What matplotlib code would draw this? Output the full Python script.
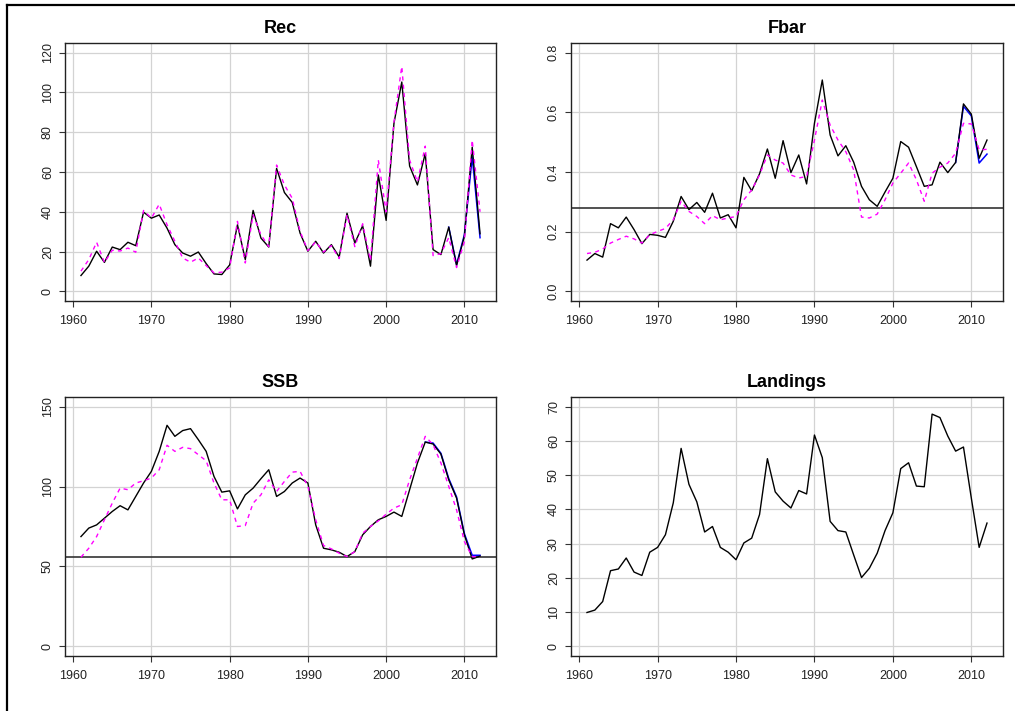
import numpy as np
import matplotlib.pyplot as plt
from matplotlib.lines import Line2D

plt.rcParams["font.family"] = ["Liberation Sans", "DejaVu Sans"]

years = np.arange(1961, 2013)

# Recruitment
rec_final = [8, 12.7, 20.2, 14.6, 22.3, 21, 24.7, 23, 39.8, 36.8,
             38.4, 31.8, 23.5, 19.3, 17.7, 19.8, 14, 8.8, 8.5, 13.3,
             33.5, 16, 40.7, 26.8, 22.3, 61.8, 49.7, 44.7, 29.3, 20.2,
             25.2, 19.3, 23.5, 17.3, 39.3, 24.3, 33, 12.7, 58.5, 35.7,
             84.5, 105.2, 63, 53.5, 69.3, 21, 18.5, 32.3, 13, 27.7,
             72.5, 29]
rec_alt = [10.2, 16, 24.7, 14.5, 20.7, 20.3, 21.8, 19.7, 40.7, 36.8,
           43.8, 33.5, 25.2, 16.8, 14.7, 16.8, 13, 9.3, 9.7, 11.8,
           35.2, 14.3, 38.5, 28.5, 22.5, 63.5, 53.5, 46.8, 30.2, 20.5,
           25, 19.8, 23, 16.5, 38.5, 22.5, 34, 15.5, 66, 40,
           85, 113, 66, 55, 73, 18, 19, 27, 12, 25,
           76, 40]
rec_retro_years = [2008, 2009, 2010, 2011, 2012]
rec_retro = [32.3, 13.5, 28.5, 67.7, 27]

# Fishing mortality
fbar_final = [0.105, 0.127, 0.115, 0.227, 0.213, 0.249, 0.207, 0.16, 0.191, 0.188,
              0.181, 0.235, 0.318, 0.274, 0.298, 0.265, 0.329, 0.246, 0.257, 0.213,
              0.382, 0.337, 0.394, 0.477, 0.379, 0.505, 0.398, 0.457, 0.36, 0.563,
              0.708, 0.524, 0.454, 0.488, 0.433, 0.352, 0.307, 0.285, 0.333, 0.379,
              0.502, 0.483, 0.418, 0.352, 0.357, 0.433, 0.398, 0.432, 0.628, 0.594,
              0.446, 0.507]
fbar_alt = [0.127, 0.131, 0.142, 0.162, 0.174, 0.185, 0.176, 0.162, 0.19, 0.201,
            0.211, 0.24, 0.302, 0.268, 0.251, 0.227, 0.254, 0.24, 0.246, 0.251,
            0.307, 0.34, 0.39, 0.457, 0.44, 0.43, 0.39, 0.38, 0.385, 0.507,
            0.641, 0.557, 0.507, 0.468, 0.407, 0.249, 0.246, 0.259, 0.307, 0.363,
            0.396, 0.43, 0.374, 0.302, 0.396, 0.416, 0.43, 0.463, 0.563, 0.561,
            0.474, 0.476]
fbar_retro_years = [2008, 2009, 2010, 2011, 2012]
fbar_retro = [0.432, 0.62, 0.588, 0.43, 0.46]
fbar_ref = 0.28

# Spawning stock biomass
ssb_final = [68.7, 74, 76, 80.2, 84.4, 88, 85.4, 93.8, 102.2, 109.5,
             122, 138.3, 131.4, 135, 136.2, 129.3, 122, 106.3, 96.5, 97.3,
             86, 94.8, 99, 104.9, 110.5, 93.8, 96.9, 102.2, 105.3, 102.2,
             76, 61.4, 60.4, 58.9, 56.2, 59.3, 69.8, 75, 79.2, 81.3,
             84, 81.3, 98, 114.7, 127.8, 126.6, 120.3, 104.2, 92.8, 69.8,
             54.7, 56.5]
ssb_alt = [55.8, 61.4, 68.7, 79.2, 89.6, 99, 98, 102.2, 103.6, 105.3,
           110.5, 125.8, 122, 124.5, 123.7, 119.9, 116.1, 102.2, 91.7, 91.7,
           75, 75.6, 89.6, 94.8, 104.2, 96.9, 103.2, 109, 109.5, 100.1,
           79.2, 63.1, 61, 58.3, 56.2, 59.3, 70.8, 75, 78.5, 82.7,
           86.5, 88.6, 104.2, 117.8, 131.4, 126.2, 114.7, 100.1, 85.4, 65.6,
           56.2, 56]
ssb_retro_years = [2005, 2006, 2007, 2008, 2009, 2010, 2011, 2012]
ssb_retro = [127.8, 127.2, 120.8, 105, 93.5, 70.5, 57, 57]
ssb_ref = 55.8

# Landings
landings = [9.9, 10.6, 13.1, 22.1, 22.6, 25.8, 21.7, 20.7, 27.5, 28.9,
            32.6, 41.9, 57.8, 47.3, 42.2, 33.4, 35, 28.9, 27.5, 25.3,
            30.2, 31.6, 38.5, 54.8, 45.1, 42.4, 40.4, 45.5, 44.5, 61.7,
            55.1, 36.5, 33.8, 33.4, 26.7, 20.1, 22.8, 27.2, 33.8, 39,
            51.9, 53.6, 46.8, 46.6, 67.8, 66.8, 61.4, 57, 58.2, 43.3,
            28.9, 36]

xticks = [1960, 1970, 1980, 1990, 2000, 2010]

W, H = 1015, 711


def px_rect(left, right, top, bottom):
    return [left / W, (H - bottom) / H, (right - left) / W, (bottom - top) / H]


def style_axes(ax, title, ymax, yticks, ylabels):
    lo, hi = 1961 - 0.04 * 51, 2012 + 0.04 * 51
    ax.set_xlim(lo, hi)
    ax.set_ylim(-0.04 * ymax, ymax * 1.04)
    ax.set_xticks(xticks)
    ax.set_yticks(yticks)
    ax.set_yticklabels(ylabels, rotation=90, va="center")
    for v in xticks:
        ax.axvline(v, color="#d3d3d3", lw=0.9, zorder=0)
    for v in yticks:
        ax.axhline(v, color="#d3d3d3", lw=0.9, zorder=0)
    ax.tick_params(direction="out", length=4, width=0.8, colors="#333333",
                   labelsize=9, labelcolor="#222222")
    ax.tick_params(axis="x", pad=6)
    ax.tick_params(axis="y", pad=4)
    for s in ax.spines.values():
        s.set_color("#222222")
        s.set_linewidth(1.0)
    ax.set_title(title, fontsize=13, fontweight="bold", pad=7.5)


fig = plt.figure(figsize=(W / 100, H / 100), dpi=100)

ax1 = fig.add_axes(px_rect(65, 496, 43, 301))
ax2 = fig.add_axes(px_rect(571, 1003, 43, 301))
ax3 = fig.add_axes(px_rect(65, 496, 397, 656))
ax4 = fig.add_axes(px_rect(571, 1003, 397, 656))

dash = (0, (3, 3))

# Rec
ax1.plot(rec_retro_years, rec_retro, color="blue", lw=1.1, zorder=2.5)
ax1.plot(years, rec_final, color="black", lw=1.0, zorder=3)
ax1.plot(years, rec_alt, color="#ff00ff", lw=1.0, ls=dash, zorder=5)
style_axes(ax1, "Rec", 120, [0, 20, 40, 60, 80, 100, 120],
           ["0", "20", "40", "60", "80", "100", "120"])

# Fbar
ax2.axhline(fbar_ref, color="#333333", lw=1.2, zorder=2)
ax2.plot(fbar_retro_years, fbar_retro, color="blue", lw=1.1, zorder=2.5)
ax2.plot(years, fbar_final, color="black", lw=1.0, zorder=3)
ax2.plot(years, fbar_alt, color="#ff00ff", lw=1.0, ls=dash, zorder=5)
style_axes(ax2, "Fbar", 0.8, [0, 0.2, 0.4, 0.6, 0.8],
           ["0.0", "0.2", "0.4", "0.6", "0.8"])

# SSB
ax3.axhline(ssb_ref, color="#333333", lw=1.2, zorder=2)
ax3.plot(ssb_retro_years, ssb_retro, color="blue", lw=1.1, zorder=2.5)
ax3.plot(years, ssb_final, color="black", lw=1.0, zorder=3)
ax3.plot(years, ssb_alt, color="#ff00ff", lw=1.0, ls=dash, zorder=5)
style_axes(ax3, "SSB", 150, [0, 50, 100, 150], ["0", "50", "100", "150"])

# Landings
ax4.plot(years, landings, color="black", lw=1.0, zorder=3)
style_axes(ax4, "Landings", 70, [0, 10, 20, 30, 40, 50, 60, 70],
           ["0", "10", "20", "30", "40", "50", "60", "70"])

# frame of the original screenshot (left and top only)
fig.add_artist(Line2D([7 / W, 7 / W], [0, 1 - 5 / H], color="black", lw=1.6,
                      transform=fig.transFigure))
fig.add_artist(Line2D([7 / W, 1], [1 - 5 / H, 1 - 5 / H], color="black", lw=1.6,
                      transform=fig.transFigure))

fig.savefig("out.png", dpi=100)
